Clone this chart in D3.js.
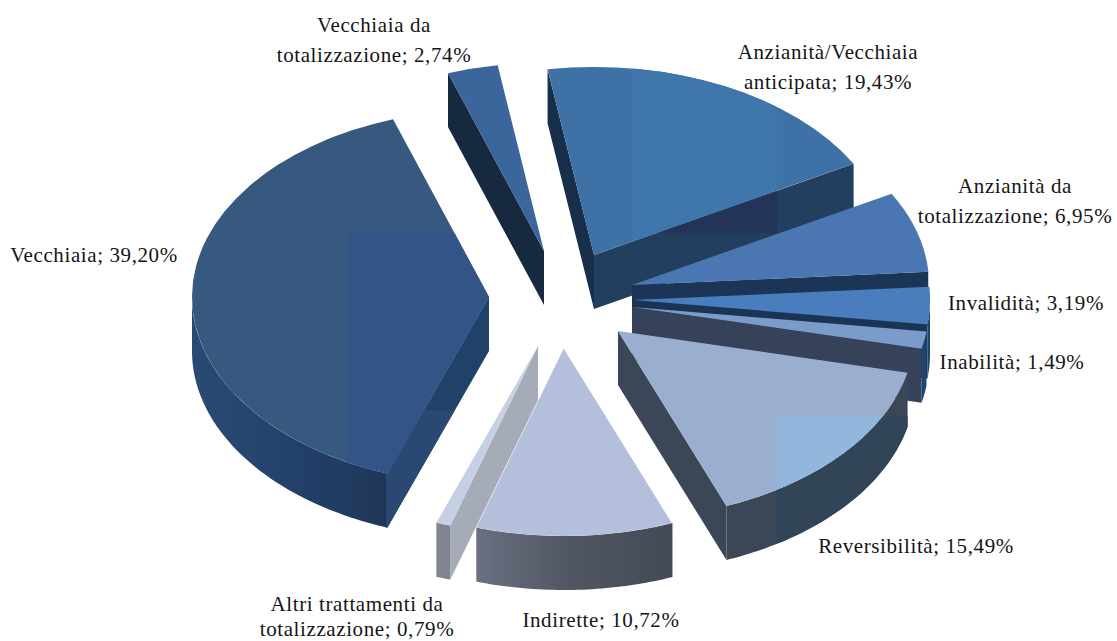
<!DOCTYPE html>
<html>
<head>
<meta charset="utf-8">
<script src="https://cdn.jsdelivr.net/npm/d3@7"></script>
<style>
  html, body { margin: 0; padding: 0; background: #fff; }
  text { font-family: "Liberation Serif", serif; font-size: 21px; letter-spacing: 0.6px; fill: #151515; }
</style>
</head>
<body>
<svg id="chart" width="1117" height="641"></svg>
<script>
// slices in clockwise order
var categories = ['Anzianità/Vecchiaia anticipata', 'Anzianità da totalizzazione', 'Invalidità', 'Inabilità',
    'Reversibilità', 'Indirette', 'Altri trattamenti da totalizzazione', 'Vecchiaia', 'Vecchiaia da totalizzazione'];
var shares = [19.43, 6.95, 3.19, 1.49, 15.49, 10.72, 0.79, 39.20, 2.74];

// label lines (name part) and where the value goes
var labelLines = [['Anzianità/Vecchiaia', 'anticipata'], ['Anzianità da', 'totalizzazione'], ['Invalidità'], ['Inabilità'],
    ['Reversibilità'], ['Indirette'], ['Altri trattamenti da', 'totalizzazione'], ['Vecchiaia'], ['Vecchiaia da', 'totalizzazione']];
var labelAnchor = [[828, 59], [1015, 193], [1026, 310], [1012, 369], [916, 553], [601, 627], [357, 611], [94, 262], [374, 32]];
var labelLeading = 30;

// explode offset of each slice from the pie centre
var explodeX = [-6, 32, 33, 32, 18, -36, -62, -111, -56];
var explodeY = [-45, -15, 0, 7, 31, 48, 46, -3, -49];

// colours: top face, near wall, far wall, outer rim
var topFill = ['#3e71a6', '#4a77b2', '#4a7dbd', '#7b9ccb', '#9aaed0', '#b3bfdb', '#c5d0e4', '#37597f', '#3b669b'];
var startWallFill = ['#172f4b', '#1a3555', '#1b3454', '#36425a', '#3b4657', '#444a55', '#a6abb8', '#214268', '#17293f'];
var endWallFill = ['#223f60', '#1a3555', '#1b3454', '#36425a', '#3b4657', '#444a55', '#a6abb8', '#214268', '#17293f'];
var rimFill = ['#223f60', '#1a3555', '#1e4470', '#1e4470', '#3b4657', 'url(#wallIndirette)', '#80858f', 'url(#wallVecchiaia)', '#17293f'];

// flat colour patches of the original picture
var patches = [
    {slice: 0, part: 'top', x: 633, y: 0, w: 144, h: 300, fill: '#3f77ad'},
    {slice: 0, part: 'wall', x: 633, y: 0, w: 144, h: 233, fill: '#243358'},
    {slice: 4, part: 'top', x: 777, y: 416, w: 200, h: 200, fill: '#93b6dc'},
    {slice: 4, part: 'wall', x: 777, y: 416, w: 200, h: 200, fill: '#324558'},
    {slice: 7, part: 'top', x: 347, y: 233, w: 200, h: 300, fill: '#325487'},
    {slice: 7, part: 'wall', x: 386, y: 410, w: 120, h: 200, fill: '#2b4872'}
];

var drawOrder = [0, 8, 1, 2, 3, 4, 7, 6, 5];

var cx = 600, cy = 300, rx = 297, ry = 188, depth = 54;

var svg = d3.select('#chart'),
    defs = svg.append('defs');

function addGradient(id, stops) {
    var g = defs.append('linearGradient').attr('id', id);
    stops.forEach(function(s) {
        g.append('stop').attr('offset', s[0]).attr('stop-color', s[1]);
    });
}
addGradient('wallIndirette', [[0, '#6a7080'], [0.45, '#515763'], [1, '#444a55']]);
addGradient('wallVecchiaia', [[0, '#2a4a74'], [0.55, '#23406a'], [1, '#203658']]);

var pie = d3.pie().sort(null)
    .startAngle(-9 * Math.PI / 180)
    .endAngle(351 * Math.PI / 180);
var slices = pie(shares);

var xScale = d3.scaleLinear().domain([-1, 1]).range([-rx, rx]),
    yScale = d3.scaleLinear().domain([-1, 1]).range([-ry, ry]);

function project(a) {
    return [xScale(Math.sin(a)), yScale(-Math.cos(a))];
}

var topArc = d3.arc().innerRadius(0).outerRadius(1);

// extruded wall under any run of points
var wallArea = d3.area()
    .x(function(p) { return p[0]; })
    .y0(function(p) { return p[1]; })
    .y1(function(p) { return p[1] + depth; });

function arcSamples(a0, a1) {
    var n = Math.max(2, Math.ceil((a1 - a0) * 60));
    return d3.range(n + 1).map(function(i) {
        return project(a0 + (a1 - a0) * i / n);
    });
}

drawOrder.forEach(function(i) {
    var d = slices[i],
        group = svg.append('g')
            .attr('transform', 'translate(' + (cx + explodeX[i]) + ',' + (cy + explodeY[i]) + ')'),
        start = project(d.startAngle),
        end = project(d.endAngle),
        wallGroup = group.append('g'),
        walls = [];

    // a wall shows only where the outline runs right to left along the bottom
    if (start[0] < 0) walls.push({pts: [[0, 0], start], fill: startWallFill[i]});
    if (end[0] > 0) walls.push({pts: [end, [0, 0]], fill: endWallFill[i]});

    var lo = Math.max(d.startAngle, Math.PI / 2),
        hi = Math.min(d.endAngle, 3 * Math.PI / 2);

    if (hi > lo) walls.push({pts: arcSamples(lo, hi), fill: rimFill[i]});

    var clipWall = defs.append('clipPath').attr('id', 'clip-wall-' + i);

    walls.forEach(function(w) {
        wallGroup.append('path').attr('d', wallArea(w.pts)).attr('fill', w.fill);
        clipWall.append('path').attr('d', wallArea(w.pts));
    });

    var topD = topArc({startAngle: d.startAngle, endAngle: d.endAngle}),
        topT = 'scale(' + rx + ',' + ry + ')';

    var clipTop = defs.append('clipPath').attr('id', 'clip-top-' + i);
    clipTop.append('path').attr('d', topD).attr('transform', topT);

    function drawPatches(part, clipId) {
        patches.filter(function(p) { return p.slice === i && p.part === part; }).forEach(function(p) {
            group.append('g').attr('clip-path', 'url(#' + clipId + ')')
                .append('rect')
                .attr('x', p.x - cx - explodeX[i]).attr('y', p.y - cy - explodeY[i])
                .attr('width', p.w).attr('height', p.h)
                .attr('fill', p.fill);
        });
    }

    drawPatches('wall', 'clip-wall-' + i);

    group.append('path')
        .attr('d', topD)
        .attr('transform', topT)
        .attr('fill', topFill[i]);

    drawPatches('top', 'clip-top-' + i);

    // thin white edge where Indirette lies over the neighbouring wall
    if (categories[i] === 'Indirette') {
        group.append('path')
            .attr('d', d3.line()([[0, 0], start]))
            .attr('fill', 'none')
            .attr('stroke', '#fff')
            .attr('stroke-width', 1.2);
    }
});

// labels: name; value with decimal comma
var labels = svg.append('g');
categories.forEach(function(c, i) {
    var lines = labelLines[i].slice(),
        value = shares[i].toFixed(2).replace('.', ',') + '%';
    lines[lines.length - 1] += '; ' + value;
    lines.forEach(function(line, j) {
        labels.append('text')
            .attr('x', labelAnchor[i][0])
            .attr('y', labelAnchor[i][1] + j * (i === 6 ? 25 : labelLeading))
            .attr('text-anchor', 'middle')
            .text(line);
    });
});
</script>
</body>
</html>
